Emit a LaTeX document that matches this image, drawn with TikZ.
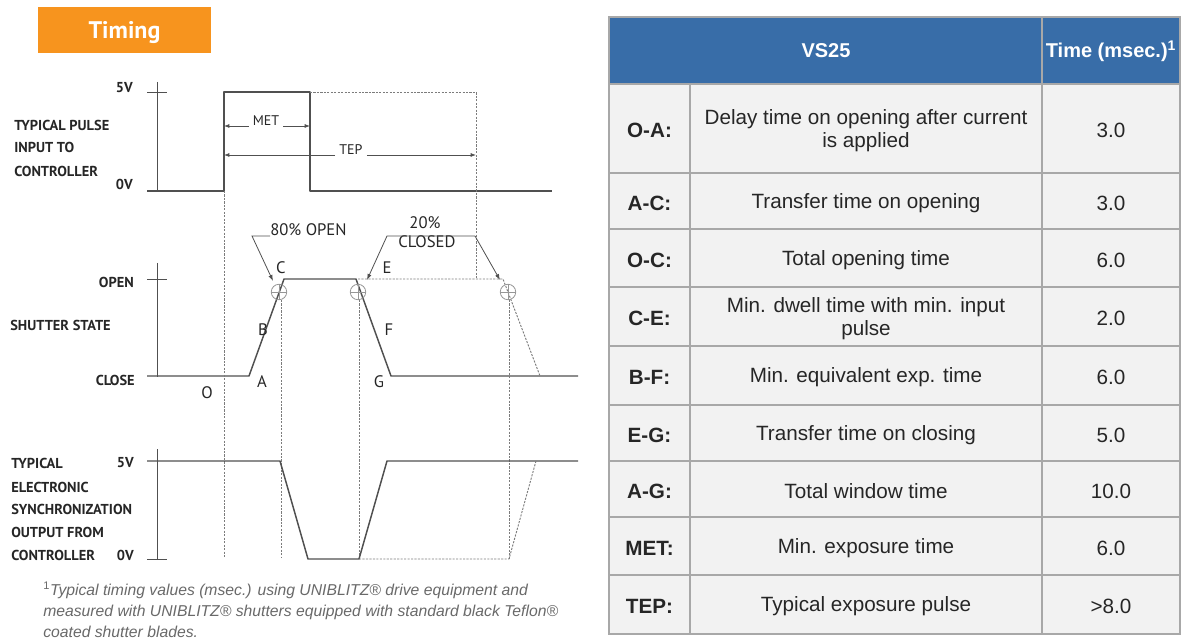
\documentclass[tikz,border=0pt]{standalone}
\usepackage{fontspec}
\setmainfont{Liberation Sans}
\newfontfamily\diagfont{PT Sans}
\usepackage{tikz}
\usetikzlibrary{arrows.meta,positioning,calc}
\definecolor{timingorange}{RGB}{247,148,30}
\definecolor{headblue}{RGB}{56,109,168}
\definecolor{cellgray}{RGB}{242,242,242}
\definecolor{gridgray}{RGB}{168,168,168}
\definecolor{wavegray}{RGB}{80,80,80}
\definecolor{notegray}{RGB}{105,105,105}

\begin{document}
\begin{tikzpicture}[
    x=0.75pt, y=-0.75pt,
    wave/.style     = {draw=wavegray, line width=1.1pt, line join=round},
    ghost/.style    = {draw=wavegray!75, line width=0.7pt, dash pattern=on 1.6pt off 1pt},
    axisline/.style = {draw=wavegray, line width=0.7pt},
    marker/.style   = {draw=wavegray!60, line width=0.6pt},
    dim/.style      = {-{Latex[length=4pt,width=3pt]}, draw=wavegray, line width=0.6pt},
    leader/.style   = {draw=wavegray, line width=0.6pt},
    tip/.style      = {leader, -{Latex[length=4.5pt,width=3.2pt]}},
    sig/.style      = {font=\diagfont\bfseries\fontsize{10.8}{12}\selectfont, text=black!85, inner sep=0pt},
    lvl/.style      = {sig, anchor=east},
    ptlabel/.style  = {font=\diagfont\fontsize{12.5}{14}\selectfont, text=black!85, inner sep=0pt},
    dimlabel/.style = {font=\diagfont\fontsize{10.5}{12}\selectfont, text=black!85, inner ysep=0pt, inner xsep=3pt, anchor=base},
    titlebox/.style = {rectangle, fill=timingorange, minimum width=129.75pt, minimum height=34.5pt,
                       text depth=0pt, font=\diagfont\bfseries\fontsize{18}{20}\selectfont, text=white},
    headtxt/.style  = {font=\bfseries\fontsize{15}{17}\selectfont, text=white},
    keytxt/.style   = {font=\bfseries\fontsize{15.5}{17}\selectfont, text=black!85},
    desctxt/.style  = {font=\fontsize{15.5}{17.3}\selectfont, text=black!85, align=center},
    valtxt/.style   = {font=\fontsize{15.5}{17}\selectfont, text=black!85},
    grid/.style     = {draw=gridgray, line width=1.2pt},
    note/.style     = {font=\itshape\fontsize{11.8}{15.8}\selectfont, text=notegray, align=left, inner sep=0pt}
  ]
    \useasboundingbox (0,0) rectangle (1184,641);

    % title
    \node[titlebox] (title) at (124.5,30) {Timing};

    % pulse input
    \draw[axisline] (157,82) -- (157,191) (147,92) -- (167,92);
    \draw[wave] (147,191) -- (224,191) -- (224,92) -- (310,92) -- (310,191) -- (552,191);
    \draw[ghost] (310,92) -- (476,92) -- (476,279);
    \node[sig, anchor=west] (pulse1) at (14,125) {TYPICAL PULSE};
    \node[sig, anchor=west] (pulse2) at (14,147) {INPUT TO};
    \node[sig, anchor=west] (pulse3) at (14,171) {CONTROLLER};
    \node[lvl] (pulse5v) at (133,88) {5V};
    \node[lvl] (pulse0v) at (133,184) {0V};

    \coordinate (metL) at (224,126);
    \coordinate (metR) at (310,126);
    \node[dimlabel] (met) at (266,126) {MET};
    \draw[dim] (met.base west) -- (metL);
    \draw[dim] (met.base east) -- (metR);
    \coordinate (tepL) at (224,155);
    \coordinate (tepR) at (476,155);
    \node[dimlabel] (tep) at (351,155) {TEP};
    \draw[dim] (tep.base west) -- (tepL);
    \draw[dim] (tep.base east) -- (tepR);

    % shutter state
    \draw[axisline] (157,263) -- (157,377) (147,279) -- (167,279);
    \draw[wave] (147,376) -- (249,376) -- (284,279) -- (356,279) -- (391,376) -- (578,376);
    \draw[ghost] (358,279) -- (503,279) -- (540,376);
    \foreach \cx in {279,358,508}{
      \draw[marker] (\cx,292) circle[radius=5.8pt];
      \draw[marker] ({\cx-7.7},292) -- ({\cx+7.7},292) (\cx,284.3) -- (\cx,299.7);
    }
    \node[lvl] (open) at (134,282) {OPEN};
    \node[sig, anchor=west] (state) at (10,325) {SHUTTER STATE};
    \node[lvl] (close) at (135,380) {CLOSE};

    \node[ptlabel] (lblC) at (281,268) {C};
    \node[ptlabel] (lblE) at (387,268) {E};
    \node[ptlabel] (lblB) at (263,330) {B};
    \node[ptlabel] (lblF) at (389,330) {F};
    \node[ptlabel] (lblA) at (262,382) {A};
    \node[ptlabel] (lblG) at (379,382) {G};
    \node[ptlabel] (lblO) at (207,393) {O};

    \node[ptlabel, anchor=base west] (open80) at (270,236) {80\% OPEN};
    \coordinate (o80bend) at (252,236);
    \coordinate (o80tip) at (273,281);
    \draw[tip] (open80.base west) -- (o80bend) -- (o80tip);

    \node[ptlabel, anchor=base] (cl20a) at (425,229) {20\%};
    \node[ptlabel, anchor=base] (cl20b) at (427,248) {CLOSED};
    \coordinate (c20left) at (387,236);
    \coordinate (c20right) at (475,236);
    \coordinate (c20tipL) at (367,280);
    \coordinate (c20tipR) at (500,280);
    \draw[tip] (c20right) -- (c20left) -- (c20tipL);
    \draw[tip] (c20right) -- (c20tipR);

    % dashed time marks
    \draw[ghost] (224,191) -- (224,558);
    \draw[ghost] (281,300) -- (281,557);
    \draw[ghost] (359,300) -- (359,559);
    \draw[ghost] (509,300) -- (509,559);

    % sync output
    \draw[axisline] (157,449) -- (157,559) (147,559) -- (167,559);
    \draw[wave] (147,461) -- (280,461) -- (308,559) -- (359,559) -- (387,461) -- (578,461);
    \draw[ghost] (359,559) -- (509,559) -- (536,461);
    \node[sig, anchor=west] (sync1) at (11,463) {TYPICAL};
    \node[sig, anchor=west] (sync2) at (11,487) {ELECTRONIC};
    \node[sig, anchor=west] (sync3) at (11,509) {SYNCHRONIZATION};
    \node[sig, anchor=west] (sync4) at (11,532) {OUTPUT FROM};
    \node[sig, anchor=west] (sync5) at (11,555) {CONTROLLER};
    \node[lvl] (sync5v) at (134,463) {5V};
    \node[lvl] (sync0v) at (134,555) {0V};

    \node[note, anchor=west] (foot) at (43,610)
      {{\upshape\textsuperscript{1}}Typical timing values (msec.) using UNIBLITZ® drive equipment and\\
       measured with UNIBLITZ® shutters equipped with standard black Teflon®\\
       coated shutter blades.};

    % table
    \fill[headblue] (609,17) rectangle (1180,84);
    \fill[cellgray] (609,84) rectangle (1180,634);
    \foreach \yb in {84,173,229,287,346,405,461,517,575}
      \draw[grid] (609,\yb) -- (1180,\yb);
    \draw[grid] (690,84) -- (690,634);
    \draw[grid] (1042,17) -- (1042,634);
    \draw[grid] (609,17) rectangle (1180,634);

    \node[headtxt] (vs) at (826,51) {VS25};
    \node[headtxt] (time) at (1111,51) {Time (msec.)\textsuperscript{1}};

    \foreach \yc/\key/\desc/\val [count=\i] in {
        130.5/O-A:/{Delay time on opening after current\\is applied}/3.0,
        203/A-C:/{Transfer time on opening}/3.0,
        260/O-C:/{Total opening time}/6.0,
        318.5/C-E:/{Min. dwell time with min. input\\pulse}/2.0,
        377.5/B-F:/{Min. equivalent exp. time}/6.0,
        435/E-G:/{Transfer time on closing}/5.0,
        491/A-G:/{Total window time}/10.0,
        548/MET:/{Min. exposure time}/6.0,
        606.5/TEP:/{Typical exposure pulse}/>8.0}{
      \node[keytxt] (key\i) at (649.5,\yc) {\key};
      \node[desctxt] (desc\i) at (866,\yc) {\desc};
      \node[valtxt] (val\i) at (1111,\yc) {\val};
    }
  \end{tikzpicture}
\end{document}
